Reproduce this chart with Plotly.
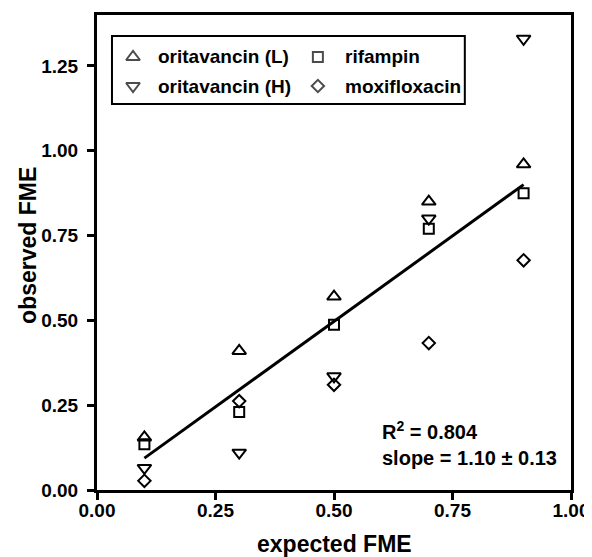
import plotly.graph_objects as go

expected = [0.1, 0.3, 0.5, 0.7, 0.9]
orita_L = [0.155, 0.41, 0.57, 0.85, 0.96]
orita_H = [0.065, 0.11, 0.335, 0.80, 1.33]
rifampin = [0.135, 0.23, 0.487, 0.77, 0.875]
moxi = [0.027, 0.262, 0.31, 0.433, 0.677]
fit_x = [0.1, 0.9]
fit_y = [0.094, 0.90]
x_ticks = [0.0, 0.25, 0.5, 0.75, 1.0]
y_ticks = [0.0, 0.25, 0.5, 0.75, 1.0, 1.25]
series_names = ["oritavancin (L)", "oritavancin (H)", "rifampin", "moxifloxacin"]

FONT = "Liberation Sans, Arial, sans-serif"
SYM = {"oritavancin (L)": ("triangle-up-open", 12),
       "oritavancin (H)": ("triangle-down-open", 12),
       "rifampin": ("square-open", 10),
       "moxifloxacin": ("diamond-open", 9.5)}
fig = go.Figure()
fig.add_trace(go.Scatter(x=fit_x, y=fit_y, mode="lines", line=dict(color="black", width=3),
                         showlegend=False, hoverinfo="skip"))
for name, vals in [("oritavancin (L)", orita_L), ("rifampin", rifampin),
                   ("oritavancin (H)", orita_H), ("moxifloxacin", moxi)]:
    sym, sz = SYM[name]
    fig.add_trace(go.Scatter(x=expected, y=vals, mode="markers", name=name,
                             marker=dict(symbol=sym, size=sz, color="black",
                                         line=dict(color="black", width=2)),
                             showlegend=False))

# legend (drawn manually to match original two-column boxed layout)
leg_mx = [0.076, 0.076, 0.466, 0.466]
leg_tx = [0.1245, 0.1245, 0.519, 0.519]
leg_y = [0.9116, 0.8505, 0.9116, 0.8505]
fig.add_trace(go.Scatter(
    x=leg_mx, y=leg_y, xaxis="x2", yaxis="y2", mode="markers",
    marker=dict(symbol=[SYM[n][0] for n in series_names], size=[SYM[n][1] for n in series_names],
                color="black", line=dict(color="black", width=2)),
    showlegend=False, hoverinfo="skip"))
for name, tx, ty in zip(series_names, leg_tx, leg_y):
    fig.add_annotation(x=tx, y=ty, xref="paper", yref="paper", xanchor="left",
                       yanchor="middle", showarrow=False, text=f"<b>{name}</b>",
                       font=dict(family=FONT, size=19, color="black"))

fig.add_shape(type="rect", xref="paper", yref="paper", x0=0.0316, x1=0.776, y0=0.8126,
              y1=0.956, line=dict(color="black", width=2))

fig.add_annotation(x=0.597, y=0.098, xref="paper", yref="paper", xanchor="left",
                   yanchor="middle", align="left", showarrow=False,
                   text="<b>R<sup>2</sup> = 0.804<br>slope = 1.10 \u00b1 0.13</b>",
                   font=dict(family=FONT, size=20, color="black"))

# axis titles
fig.add_annotation(x=0.5, y=-0.114, xref="paper", yref="paper", xanchor="center",
                   yanchor="middle", showarrow=False, text="<b>expected FME</b>",
                   font=dict(family=FONT, size=23, color="black"))
fig.add_annotation(x=-0.1456, y=0.516, xref="paper", yref="paper", xanchor="center",
                   yanchor="middle", showarrow=False, text="<b>observed FME</b>", textangle=-90,
                   font=dict(family=FONT, size=23, color="black"))

axis_common = dict(showgrid=False, zeroline=False, showline=True, linecolor="black",
                   linewidth=3, ticks="outside", ticklen=7, tickwidth=2.5, tickcolor="black",
                   mirror=True, automargin=False,
                   tickfont=dict(family=FONT, size=19, color="black"))
fig.update_layout(
    width=584, height=549,
    margin=dict(l=89, r=21, t=7, b=67),
    plot_bgcolor="white", paper_bgcolor="white",
    xaxis=dict(range=[0, 1.0], tickvals=x_ticks, ticktext=[f"<b>{v:.2f}</b>" for v in x_ticks],
               ticklabelstandoff=-6, **axis_common),
    yaxis=dict(range=[0, 1.40], tickvals=y_ticks, ticktext=[f"<b>{v:.2f}</b>" for v in y_ticks],
               ticklabelstandoff=5, **axis_common),
    xaxis2=dict(range=[0, 1], overlaying="x", visible=False, fixedrange=True),
    yaxis2=dict(range=[0, 1], overlaying="y", visible=False, fixedrange=True),
)
fig.write_html("out.html")
